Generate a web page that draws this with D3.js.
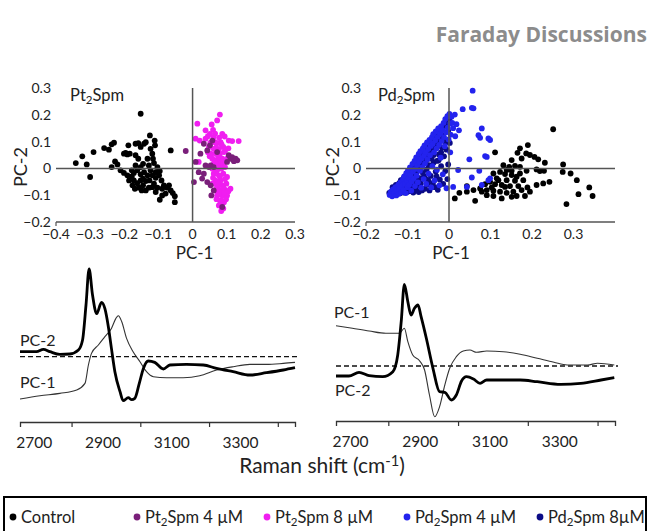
<!DOCTYPE html>
<html>
<head>
<meta charset="utf-8">
<script src="https://cdn.jsdelivr.net/npm/d3@7/dist/d3.min.js"></script>
<style>
  body { margin: 0; background: #fff; }
  svg { display: block; font-family: Lato, "Open Sans", sans-serif; }
</style>
</head>
<body>
<div id="chart"></div>
<script>
// ---- scatter data (PC-1, PC-2) ----
const ptControl = [[-0.152,0.204],[-0.342,0.020],[-0.323,0.045],[-0.310,0.015],[-0.300,-0.032],[-0.290,0.061],[-0.259,0.076],[-0.245,0.070],[-0.237,0.090],[-0.230,0.096],[-0.237,0.005],[-0.227,0.026],[-0.220,0.015],[-0.211,-0.007],[-0.201,0.055],[-0.196,0.058],[-0.188,0.086],[-0.191,0.052],[-0.184,0.055],[-0.201,-0.017],[-0.191,-0.026],[-0.178,-0.007],[-0.172,-0.017],[-0.167,0.092],[-0.159,0.094],[-0.167,0.049],[-0.159,0.036],[-0.152,0.080],[-0.142,0.092],[-0.137,0.098],[-0.125,0.123],[-0.111,0.104],[-0.110,0.086],[-0.118,0.055],[-0.132,0.036],[-0.145,0.017],[-0.128,0.011],[-0.113,0.020],[-0.103,0.005],[-0.096,-0.010],[-0.064,0.067],[-0.162,-0.007],[-0.152,-0.022],[-0.142,-0.014],[-0.132,-0.026],[-0.172,-0.045],[-0.162,-0.055],[-0.152,-0.045],[-0.176,-0.063],[-0.157,-0.072],[-0.145,-0.063],[-0.137,-0.047],[-0.126,-0.045],[-0.118,-0.026],[-0.108,-0.035],[-0.098,-0.026],[-0.113,-0.057],[-0.103,-0.072],[-0.128,-0.072],[-0.137,-0.082],[-0.149,-0.082],[-0.091,-0.045],[-0.084,-0.063],[-0.089,-0.076],[-0.074,-0.072],[-0.064,-0.082],[-0.069,-0.063],[-0.108,-0.088],[-0.079,-0.094],[-0.058,-0.092],[-0.052,-0.104],[-0.052,-0.126],[-0.096,-0.117],[-0.178,-0.030],[-0.186,-0.045],[-0.145,-0.038],[-0.123,-0.007],[-0.108,-0.014],[-0.167,0.011],[-0.116,0.036],[-0.123,0.073],[-0.152,0.005],[-0.118,-0.070],[-0.169,-0.076],[-0.089,-0.101]];
const pt4uM = [[-0.020,0.065],[0.009,0.024],[0.004,-0.051],[0.018,-0.014],[0.033,-0.020],[0.028,-0.038],[0.043,-0.051],[0.053,-0.063],[0.038,0.011],[0.048,0.005],[0.053,0.011],[0.033,0.092],[0.043,0.067],[0.051,0.086],[0.058,0.104],[0.106,0.049],[0.116,0.042],[0.126,0.036],[0.131,0.030],[0.111,0.036],[0.121,0.027],[0.101,0.024],[0.062,0.005],[0.055,-0.101],[0.062,-0.082],[0.087,-0.144],[0.072,0.061],[0.023,0.055]];
const pt8uM = [[0.080,0.201],[0.014,0.167],[0.056,0.164],[0.072,0.179],[0.060,0.144],[0.009,0.111],[0.021,0.104],[0.038,0.111],[0.062,0.117],[0.087,0.129],[0.094,0.119],[0.116,0.102],[0.135,0.102],[0.058,0.098],[0.070,0.092],[0.082,0.098],[0.048,0.080],[0.062,0.073],[0.077,0.073],[0.090,0.080],[0.053,0.055],[0.067,0.055],[0.080,0.055],[0.092,0.061],[0.058,0.036],[0.072,0.032],[0.087,0.036],[0.062,0.017],[0.077,0.014],[0.090,0.017],[0.018,0.024],[0.058,-0.001],[0.072,-0.005],[0.084,-0.001],[0.062,-0.020],[0.077,-0.026],[0.090,-0.020],[0.067,-0.045],[0.082,-0.045],[0.072,-0.063],[0.087,-0.063],[0.099,-0.057],[0.067,-0.082],[0.082,-0.082],[0.096,-0.080],[0.111,-0.076],[0.072,-0.101],[0.087,-0.101],[0.101,-0.101],[0.080,-0.119],[0.092,-0.126],[0.077,-0.138],[0.087,-0.147],[0.084,-0.159],[0.106,0.104],[0.051,0.129],[0.038,0.142],[0.101,0.036],[0.058,-0.057],[0.101,-0.032],[0.067,0.098],[0.045,0.120],[0.066,0.130],[0.078,0.115],[0.052,0.095],[0.085,0.090],[0.068,0.075],[0.095,0.065],[0.050,0.045],[0.075,0.045],[0.085,0.025],[0.065,0.025],[0.095,0.005],[0.055,0.010],[0.070,-0.012],[0.080,-0.030],[0.095,-0.040],[0.060,-0.035],[0.075,-0.055],[0.090,-0.070],[0.078,-0.095],[0.093,-0.090],[0.070,-0.115],[0.085,-0.120],[0.098,-0.115],[0.080,-0.135],[0.090,-0.150],[0.072,-0.070],[0.105,-0.085],[0.045,0.060],[0.105,0.075]];

const pdControl = [[0.251,0.146],[0.111,0.060],[0.190,0.087],[0.171,0.075],[0.165,0.058],[0.186,0.056],[0.195,0.050],[0.206,0.043],[0.215,0.034],[0.151,0.031],[0.175,0.037],[0.231,0.021],[0.131,0.012],[0.145,0.006],[0.159,0.009],[0.171,0.006],[0.187,-0.009],[0.211,-0.004],[0.219,-0.010],[0.229,-0.009],[0.275,0.015],[0.274,-0.013],[0.293,-0.019],[0.123,-0.013],[0.107,-0.019],[0.135,-0.021],[0.151,-0.025],[0.171,-0.019],[0.115,-0.037],[0.139,-0.044],[0.159,-0.046],[0.179,-0.044],[0.099,-0.050],[0.087,-0.059],[0.111,-0.059],[0.127,-0.062],[0.147,-0.066],[0.167,-0.066],[0.189,-0.071],[0.211,-0.062],[0.227,-0.056],[0.242,-0.050],[0.308,-0.044],[0.338,-0.071],[0.075,-0.075],[0.091,-0.081],[0.107,-0.083],[0.123,-0.087],[0.139,-0.091],[0.155,-0.087],[0.175,-0.081],[0.195,-0.087],[0.059,-0.081],[0.043,-0.066],[0.025,-0.091],[0.043,-0.087],[0.014,-0.112],[0.063,-0.121],[0.107,-0.103],[0.127,-0.112],[0.151,-0.106],[0.283,-0.133],[0.312,-0.096],[0.346,-0.103],[0.091,-0.100],[0.079,-0.087],[0.163,-0.103],[0.183,-0.103],[0.119,-0.044],[0.135,-0.069],[0.163,-0.031],[0.139,-0.006],[0.151,-0.009],[0.103,-0.071]];
const pd4uM = [[-0.143,-0.099],[-0.140,-0.087],[-0.137,-0.104],[-0.135,-0.078],[-0.132,-0.093],[-0.129,-0.070],[-0.127,-0.101],[-0.125,-0.084],[-0.122,-0.061],[-0.121,-0.095],
  [-0.119,-0.074],[-0.117,-0.052],[-0.115,-0.089],[-0.113,-0.063],[-0.111,-0.041],[-0.110,-0.080],[-0.108,-0.030],[-0.106,-0.057],[-0.104,-0.092],[-0.103,-0.018],[-0.101,-0.046],[-0.100,-0.070],
  [-0.099,-0.008],[-0.097,-0.035],[-0.096,-0.061],[-0.094,0.004],[-0.093,-0.024],[-0.091,-0.083],[-0.090,-0.049],[-0.088,0.017],[-0.087,-0.012],[-0.085,-0.038],[-0.083,0.028],[-0.082,-0.066],[-0.081,-0.002],
  [-0.079,0.041],[-0.078,-0.027],[-0.076,0.013],[-0.075,-0.052],[-0.073,0.054],[-0.072,0.026],[-0.070,-0.009],[-0.069,0.064],[-0.067,-0.072],[-0.066,0.037],[-0.064,0.005],[-0.063,0.075],[-0.061,-0.040],[-0.060,0.048],
  [-0.059,0.086],[-0.058,0.018],[-0.056,0.061],[-0.055,-0.058],[-0.053,0.097],[-0.052,0.033],[-0.050,0.072],[-0.049,-0.020],[-0.047,0.106],[-0.046,0.049],[-0.044,0.084],[-0.043,-0.071],[-0.041,0.117],[-0.040,0.008],
  [-0.039,0.092],[-0.038,0.128],[-0.036,0.060],[-0.035,-0.045],[-0.033,0.105],[-0.032,0.138],[-0.030,0.074],[-0.029,-0.005],[-0.027,0.118],[-0.026,0.149],[-0.024,0.088],[-0.023,-0.063],[-0.021,0.131],[-0.020,0.040],
  [-0.019,0.158],[-0.018,0.102],[-0.016,0.143],[-0.015,-0.022],[-0.013,0.170],[-0.012,0.117],[-0.010,0.083],[-0.009,0.184],[-0.007,0.135],[-0.006,-0.074],[-0.004,0.195],[-0.003,0.152],[-0.001,0.108],[0.001,0.203],[0.003,0.168],[0.004,0.126],
  [0.006,0.193],[0.014,0.201],[0.033,0.221],[0.055,0.226],[0.059,0.224],[0.057,0.290],[0.079,0.149],[0.075,0.114],[0.095,0.112],[0.099,0.106],[0.071,0.124],[0.049,0.034],[0.087,0.046],[0.091,0.043],[0.022,-0.006],[0.055,-0.034],[0.010,-0.069],[0.043,-0.069],[0.095,-0.044],[0.079,-0.062],[0.073,-0.009],[0.099,-0.037],[0.010,0.150],[0.015,0.120],[0.008,0.170],[0.003,0.060],[0.018,0.165],[0.024,0.142]];
const pd8uM = [[-0.144,-0.091],[-0.139,-0.097],[-0.136,-0.070],[-0.133,-0.086],[-0.130,-0.098],[-0.128,-0.062],[-0.126,-0.077],[-0.123,-0.090],[-0.120,-0.055],[-0.118,-0.083],[-0.116,-0.044],[-0.114,-0.068],[-0.112,-0.086],[-0.109,-0.035],[-0.107,-0.066],[-0.105,-0.048],[-0.102,-0.024],[-0.100,-0.058],[-0.098,-0.013],[-0.095,-0.042],[-0.092,0.000],[-0.089,-0.029],[-0.086,0.011],[-0.084,-0.054],[-0.081,0.022],[-0.079,-0.015],[-0.077,0.032],[-0.074,0.001],[-0.071,0.044],[-0.068,0.012],[-0.065,0.057],[-0.062,0.024],[-0.060,-0.030],[-0.057,0.068],[-0.054,0.040],[-0.051,0.082],[-0.048,0.055],[-0.045,0.094],[-0.042,0.066],[-0.039,0.107],[-0.037,0.022],[-0.034,0.081],[-0.031,0.121],[-0.028,0.095],[-0.025,0.134],[-0.022,0.108],[-0.019,0.060],[-0.017,0.146],[-0.014,0.122],[-0.011,0.160],[-0.008,0.098],[-0.005,0.172],[-0.002,0.140],[0.001,0.185],[0.002,0.095],[-0.070,-0.060],[-0.050,-0.045],[-0.030,-0.030],[-0.045,0.010],[-0.025,0.030],
  [-0.118,-0.093],[-0.114,-0.079],[-0.109,-0.090],[-0.105,-0.076],[-0.101,-0.088],[-0.097,-0.072],[-0.094,-0.085],[-0.110,-0.060],[-0.098,-0.045],
  [-0.089,-0.076],[-0.086,-0.090],[-0.083,-0.051],[-0.079,-0.081],[-0.076,-0.064],[-0.073,-0.088],[-0.071,-0.036],[-0.068,-0.055],[-0.065,-0.082],[-0.063,-0.017],[-0.080,-0.040],[-0.088,-0.058],
  [-0.058,-0.076],[-0.057,-0.038],[-0.054,-0.005],[-0.052,-0.060],[-0.049,0.012],[-0.047,-0.082],[-0.044,-0.028],[-0.042,0.036],[-0.039,-0.055],[-0.037,0.050],[-0.034,-0.070],[-0.032,-0.012],[-0.055,0.030],[-0.045,0.060],
  [-0.029,0.028],[-0.027,-0.080],[-0.024,0.052],[-0.022,-0.042],[-0.019,0.008],[-0.017,0.078],[-0.014,-0.058],[-0.012,0.045],[-0.009,-0.010],[-0.006,0.070],[-0.004,-0.040],[-0.002,0.015],[-0.028,0.090],[-0.015,0.105]];

// ---- PCA loadings (Raman shift, loading) ----
const ptPc2Shift = [2650,2698,2718,2737,2766,2795,2820,2832,2842,2851,2861,2873,2887,2897,2907,2916,2926,2941,2950,2965,2975,2984,2997,3009,3023,3042,3067,3086,3134,3183,3222,3270,3319,3367,3416,3450];
const ptPc2Load = [0.05,0.05,0.073,0.05,0.023,0.027,0.067,0.167,0.517,0.877,0.617,0.43,0.543,0.48,0.30,0.083,-0.15,-0.35,-0.44,-0.41,-0.43,-0.417,-0.267,-0.117,-0.043,-0.057,-0.123,-0.083,-0.077,-0.083,-0.117,-0.15,-0.183,-0.16,-0.133,-0.11];
const ptPc1Shift = [2650,2708,2766,2815,2839,2849,2858,2878,2897,2916,2929,2936,2946,2960,2979,2999,3018,3038,3076,3125,3173,3222,3270,3319,3367,3416,3450];
const ptPc1Load = [-0.423,-0.39,-0.367,-0.333,-0.267,-0.083,0.033,0.117,0.20,0.283,0.383,0.41,0.35,0.183,0.05,-0.05,-0.15,-0.20,-0.21,-0.21,-0.19,-0.133,-0.10,-0.077,-0.077,-0.067,-0.057];
const pdPc2Shift = [2650,2687,2716,2745,2784,2813,2827,2837,2846,2856,2865,2875,2885,2894,2909,2928,2947,2962,2981,2995,3010,3024,3044,3063,3082,3130,3178,3227,3294,3352,3410,3448];
const pdPc2Load = [-0.10,-0.10,-0.063,-0.097,-0.107,-0.057,0.11,0.443,0.817,0.643,0.51,0.577,0.61,0.493,0.277,-0.023,-0.257,-0.263,-0.34,-0.29,-0.15,-0.107,-0.13,-0.173,-0.14,-0.14,-0.14,-0.157,-0.183,-0.173,-0.14,-0.117];
const pdPc1Shift = [2650,2697,2745,2793,2832,2846,2856,2870,2890,2904,2918,2933,2947,2962,2976,2995,3015,3034,3053,3082,3130,3178,3227,3275,3313,3371,3400,3448];
const pdPc1Load = [0.403,0.377,0.35,0.327,0.327,0.377,0.243,0.11,0.05,-0.04,-0.29,-0.507,-0.407,-0.19,-0.023,0.093,0.15,0.16,0.137,0.15,0.143,0.117,0.077,0.037,0.01,0.01,0.027,0.01];

const ptXTicks = [-0.4,-0.3,-0.2,-0.1,0,0.1,0.2,0.3];
const pdXTicks = [-0.2,-0.1,0,0.1,0.2,0.3];
const yTicks = [-0.2,-0.1,0,0.1,0.2,0.3];
const shiftTicks = [2800,3000,3200,3400];
const shiftLabels = [2700,2900,3100,3300];

const legendNames = [["Control"],["Pt","2","Spm 4 µM"],["Pt","2","Spm 8 µM"],["Pd","2","Spm 4 µM"],["Pd","2","Spm 8µM"]];
const legendColors = ["#000000","#7a1f7a","#f01ef0","#2323ee","#0b0b86"];

const W = 651, H = 531;
const svg = d3.select("#chart").append("svg").attr("width", W).attr("height", H);

// subscript-aware text
function rich(g, parts, attrs) {
  const t = g.append("text");
  Object.entries(attrs).forEach(([k, v]) => t.attr(k, v));
  parts.forEach((p, i) => {
    const sub = i % 2 === 1;
    const ts = t.append("tspan").text(p);
    if (sub) ts.attr("font-size", "0.7em").attr("dy", "0.28em");
    else if (i > 0) ts.attr("dy", "-0.2em");
  });
  return t;
}

svg.append("text")
  .attr("x", 647).attr("y", 42)
  .attr("text-anchor", "end")
  .style("font-family", "'Open Sans', sans-serif")
  .style("font-weight", "bold")
  .style("font-size", "21px")
  .style("fill", "#8c8c8c")
  .text("Faraday Discussions");

function scatter(cfg) {
  const g = svg.append("g");
  const x = d3.scaleLinear().domain(cfg.xDomain).range(cfg.xRange);
  const y = d3.scaleLinear().domain([-0.2, 0.3]).range([222, 88]);
  const axisCol = "#555";

  // bottom axis line
  g.append("line").attr("x1", x.range()[0]).attr("x2", x.range()[1])
    .attr("y1", y(-0.2)).attr("y2", y(-0.2)).attr("stroke", axisCol).attr("stroke-width", 1.5);
  g.append("line").attr("x1", x.range()[0]).attr("x2", x.range()[0])
    .attr("y1", y(-0.2)).attr("y2", y(-0.2) + 4).attr("stroke", axisCol).attr("stroke-width", 1.2);

  g.selectAll(".xt").data(cfg.xTicks).enter().append("text")
    .attr("x", d => x(d)).attr("y", 239)
    .attr("text-anchor", "middle").style("font-size", "14px").style("fill", "#222")
    .text(d => d3.format("")(+d.toFixed(1)));
  g.selectAll(".yt").data(yTicks).enter().append("text")
    .attr("x", cfg.yLabelX).attr("y", d => y(d) + 5)
    .attr("text-anchor", "end").style("font-size", "14px").style("fill", "#222")
    .text(d => d3.format("")(+d.toFixed(1)));

  // points
  cfg.series.forEach(s => {
    g.append("g").selectAll("circle").data(s.data).enter().append("circle")
      .attr("cx", d => x(d[0])).attr("cy", d => y(d[1]))
      .attr("r", 2.9).attr("fill", s.color);
  });

  // zero lines
  g.append("line").attr("x1", x.range()[0]).attr("x2", x.range()[1])
    .attr("y1", y(0)).attr("y2", y(0)).attr("stroke", axisCol).attr("stroke-width", 1.5);
  g.append("line").attr("x1", x(0)).attr("x2", x(0))
    .attr("y1", y(0.3)).attr("y2", y(-0.2)).attr("stroke", axisCol).attr("stroke-width", 1.5);

  rich(g, cfg.title, { x: cfg.titleX, y: 101, "font-size": "16.5px", fill: "#222" });
  g.append("text").attr("x", x(0) + 2).attr("y", 259)
    .attr("text-anchor", "middle").style("font-size", "17px").style("fill", "#222").text("PC-1");
  g.append("text").attr("transform", `translate(${cfg.yTitleX},167) rotate(-90)`)
    .attr("text-anchor", "middle").style("font-size", "18px").style("fill", "#222").text("PC-2");
}

scatter({
  xDomain: [-0.4, 0.3], xRange: [56, 295], xTicks: ptXTicks, yLabelX: 51,
  title: ["Pt", "2", "Spm"], titleX: 70, yTitleX: 27,
  series: [{ data: ptControl, color: legendColors[0] }, { data: pt8uM, color: legendColors[2] }, { data: pt4uM, color: legendColors[1] }]
});
scatter({
  xDomain: [-0.2, 0.4], xRange: [366, 615], xTicks: pdXTicks, yLabelX: 361,
  title: ["Pd", "2", "Spm"], titleX: 378, yTitleX: 339,
  series: [{ data: pdControl, color: legendColors[0] }, { data: pd8uM, color: legendColors[4] }, { data: pd4uM, color: legendColors[3] }]
});

function spectra(cfg) {
  const g = svg.append("g");
  const x = d3.scaleLinear().domain([2650, 3450]).range(cfg.xRange);
  const y = d3.scaleLinear().domain(cfg.yDomain).range([cfg.axisY, 265]);

  g.append("line").attr("x1", x.range()[0]).attr("x2", x.range()[1] + 3)
    .attr("y1", y(0)).attr("y2", y(0))
    .attr("stroke", "#111").attr("stroke-width", 1.3).attr("stroke-dasharray", "5,3");

  const axis = d3.axisBottom(x).tickValues(shiftTicks).tickSize(5).tickFormat("");
  const ax = g.append("g").attr("transform", `translate(0,${cfg.axisY})`).call(axis);
  ax.select(".domain").attr("stroke", "#333").attr("stroke-width", 1.3);
  ax.selectAll(".tick line").attr("stroke", "#333").attr("stroke-width", 1.2);

  g.selectAll(".sl").data(shiftLabels).enter().append("text")
    .attr("x", d => x(d) - 3).attr("y", cfg.axisY + 26)
    .attr("text-anchor", "middle").style("font-size", "15.5px").style("fill", "#222").text(d => d);

  const line = d3.line().x(d => x(d[0])).y(d => y(d[1])).curve(d3.curveMonotoneX);
  g.append("path").datum(d3.zip(cfg.pc1Shift, cfg.pc1Load)).attr("d", line)
    .attr("fill", "none").attr("stroke", "#333").attr("stroke-width", 1.1);
  g.append("path").datum(d3.zip(cfg.pc2Shift, cfg.pc2Load)).attr("d", line)
    .attr("fill", "none").attr("stroke", "#000").attr("stroke-width", 2.8).attr("stroke-linejoin", "round");

  cfg.labels.forEach(l => {
    g.append("text").attr("x", l.x).attr("y", l.y)
      .style("font-size", "16px").style("fill", "#222").text(l.text);
  });
}

spectra({
  xRange: [20, 295], axisY: 422, yDomain: [-0.653, 0.917],
  pc1Shift: ptPc1Shift, pc1Load: ptPc1Load, pc2Shift: ptPc2Shift, pc2Load: ptPc2Load,
  labels: [{ text: "PC-2", x: 20, y: 346 }, { text: "PC-1", x: 20, y: 388 }]
});
spectra({
  xRange: [336, 615], axisY: 421, yDomain: [-0.55, 1.01],
  pc1Shift: pdPc1Shift, pc1Load: pdPc1Load, pc2Shift: pdPc2Shift, pc2Load: pdPc2Load,
  labels: [{ text: "PC-1", x: 334, y: 318 }, { text: "PC-2", x: 335, y: 396 }]
});

const xt = svg.append("text").attr("x", 322).attr("y", 473).attr("text-anchor", "middle")
  .style("font-size", "21px").style("fill", "#222");
xt.append("tspan").text("Raman shift (cm");
xt.append("tspan").text("-1").attr("font-size", "0.7em").attr("dy", "-0.45em");
xt.append("tspan").text(")").attr("dy", "0.32em");

// legend
const lg = svg.append("g");
lg.append("rect").attr("x", 4).attr("y", 497).attr("width", 642).attr("height", 45)
  .attr("fill", "none").attr("stroke", "#000").attr("stroke-width", 2);
const legendX = [13, 137, 267, 407, 540];
legendNames.forEach((n, i) => {
  lg.append("circle").attr("cx", legendX[i]).attr("cy", 517).attr("r", 3.4).attr("fill", legendColors[i]);
  rich(lg, n, { x: legendX[i] + 8, y: 523, "font-size": "16.5px", fill: "#222" });
});
</script>
</body>
</html>
